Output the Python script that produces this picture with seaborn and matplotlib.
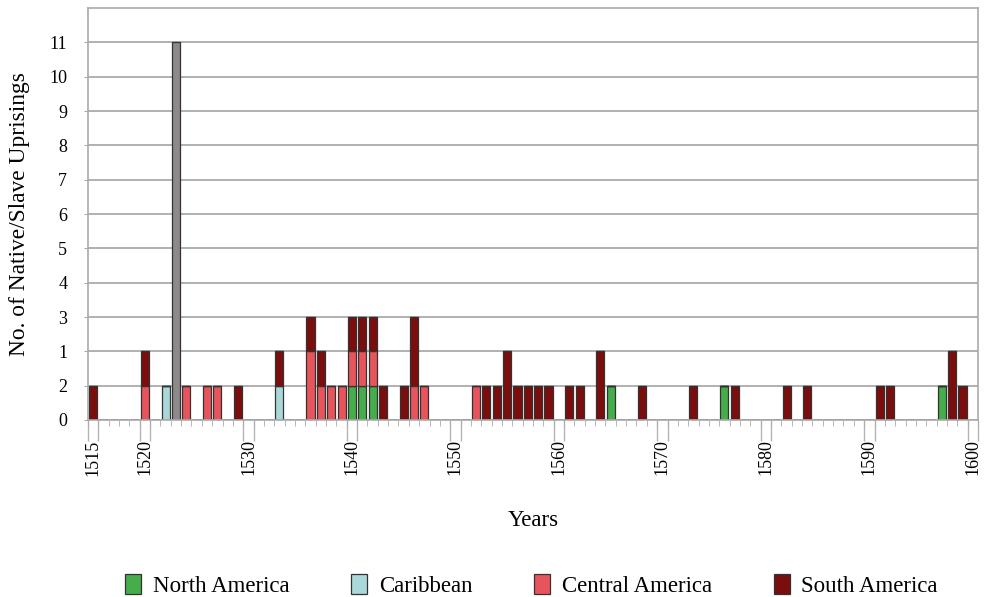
import numpy as np
import pandas as pd
import matplotlib
matplotlib.use("Agg")
import matplotlib.pyplot as plt
import seaborn as sns
from matplotlib.patches import Patch

# uprisings per year and region
north_years = [1540, 1541, 1542, 1565, 1576, 1597]
north_counts = [1, 1, 1, 1, 1, 1]

carib_years = [1522, 1533]
carib_counts = [1, 1]

central_years = [1520, 1524, 1526, 1527, 1536, 1537, 1538, 1539, 1540, 1541,
                 1542, 1546, 1547, 1552]
central_counts = [1, 1, 1, 1, 2, 1, 1, 1, 1, 1, 1, 1, 1, 1]

south_years = [1515, 1520, 1529, 1533, 1536, 1537, 1540, 1541, 1542, 1543,
               1545, 1546, 1553, 1554, 1555, 1556, 1557, 1558, 1559, 1561,
               1562, 1564, 1568, 1573, 1577, 1582, 1584, 1591, 1592, 1598, 1599]
south_counts = [1, 1, 1, 1, 1, 1, 1, 1, 1, 1,
                1, 2, 1, 1, 2, 1, 1, 1, 1, 1,
                1, 2, 1, 1, 1, 1, 1, 1, 1, 2, 1]

# grey bar, not in the legend
other_years = [1523]
other_counts = [11]

regions = ["North America", "Caribbean", "Central America", "South America", "Other"]
colors = ["#46ad4b", "#aad8d8", "#e8545b", "#7c0d0d", "#8e8a8a"]

year_labels = [1515, 1520, 1530, 1540, 1550, 1560, 1570, 1580, 1590, 1600]
y_labels = ["0", "2", "1", "3", "4", "5", "6", "7", "8", "9", "10", "11"]

frames = []
for name, ys, cs in zip(regions,
                        [north_years, carib_years, central_years, south_years, other_years],
                        [north_counts, carib_counts, central_counts, south_counts, other_counts]):
    frames.append(pd.DataFrame({"year": ys, "count": cs, "region": name}))
df = pd.concat(frames, ignore_index=True)

serif = "Liberation Serif"
plt.rcParams["font.family"] = serif

fig = plt.figure(figsize=(9.88, 5.97), dpi=100)
ax = fig.add_axes([88 / 988, 1 - 420 / 597, 890 / 988, 412 / 597])

sns.histplot(data=df, x="year", weights="count", hue="region", hue_order=regions[::-1],
             palette=dict(zip(regions, colors)), multiple="stack", discrete=True,
             shrink=0.78, edgecolor="#333333", linewidth=0.9, alpha=1, legend=False, ax=ax)

ax.set_xlim(1514.5, 1600.5)
ax.set_ylim(0, 12)

# y axis
ax.set_yticks(range(12))
ax.set_yticklabels(y_labels, fontsize=13)
ax.yaxis.grid(True, color="#aaaaaa", linewidth=1.3)
ax.set_axisbelow(True)
ax.tick_params(axis="y", length=3, color="#aaaaaa", pad=12)

# x axis: labels at year centres, tick marks at year boundaries
ax.set_xticks(year_labels)
ax.set_xticklabels([str(y) for y in year_labels], rotation=90, fontsize=13)
ax.tick_params(axis="x", which="major", length=0, pad=14)
ax.set_xticks(np.arange(1514.5, 1601, 1), minor=True)
ax.tick_params(axis="x", which="minor", length=4, color="#aaaaaa")
sec = ax.secondary_xaxis("bottom")
sec.set_xticks([y + d for y in year_labels for d in (-0.5, 0.5)])
sec.set_xticklabels([])
sec.tick_params(length=15, color="#b4b4b4", width=1)
sec.spines["bottom"].set_visible(False)

for s in ax.spines.values():
    s.set_color("#aaaaaa")
    s.set_linewidth(1.2)

ax.set_xlabel("Years", fontsize=16.5, labelpad=25)
ax.set_ylabel("No. of Native/Slave Uprisings", fontsize=16.8, labelpad=14)

handles = [Patch(facecolor=c, edgecolor="#333333", linewidth=0.9) for c in colors[:4]]
fig.legend(handles, regions[:4], loc="center", bbox_to_anchor=(0.538, 0.02), ncol=4,
           frameon=False, fontsize=16.5, handlelength=0.7, handleheight=1.0,
           handletextpad=0.5, columnspacing=2.7)

fig.savefig("out.png", dpi=100)
